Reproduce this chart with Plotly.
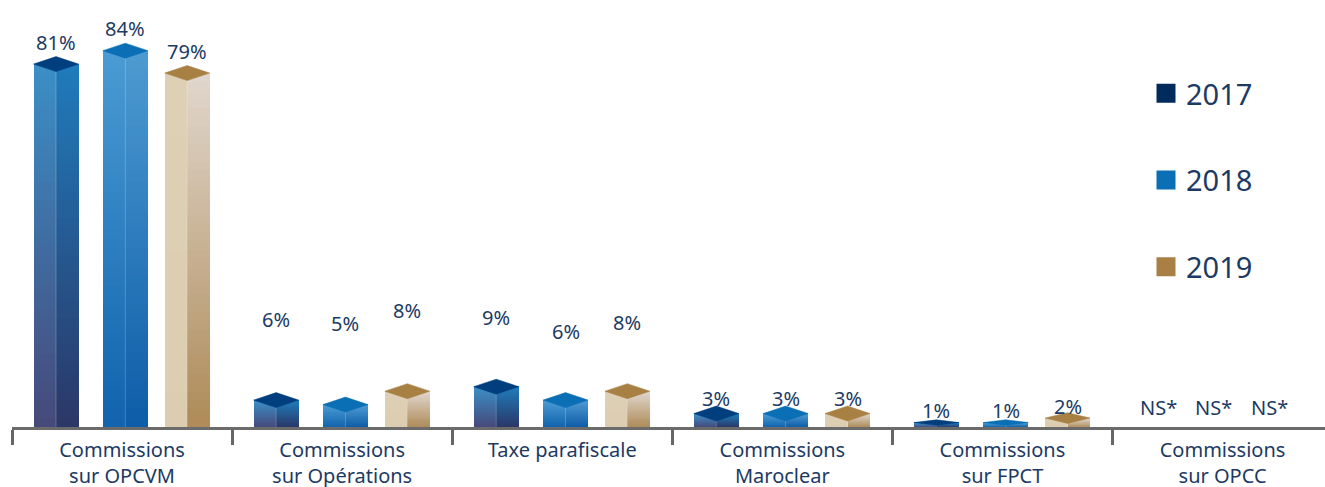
import plotly.graph_objects as go

# ---------------- data ----------------
categories = ["Commissions<br>sur OPCVM", "Commissions<br>sur Opérations", "Taxe parafiscale",
              "Commissions<br>Maroclear", "Commissions<br>sur FPCT", "Commissions<br>sur OPCC"]
years = ["2017", "2018", "2019"]
v2017 = [81, 6, 9, 3, 1, None]
v2018 = [84, 5, 6, 3, 1, None]
v2019 = [79, 8, 8, 3, 2, None]
na_label = "NS*"
series = [v2017, v2018, v2019]

# ---------------- style ----------------
W, H = 1325, 487
ML, MB = 12, 60
CAT_PX = 220.1
PLOT_W = W - ML
PLOT_H = H - MB
Y_MAX = 95.3
PX_PER_Y = PLOT_H / Y_MAX
X_MAX = -0.5 + PLOT_W / CAT_PX

OFFSETS = [-0.300, 0.015, 0.296]      # bar centre offset inside a category (category units)
NA_OFFSETS = [-0.29, -0.04, 0.215]    # label offsets used when a value is not significant
BAR_W = 45 / CAT_PX                   # bar width in category units
DEPTH_PX = 7.5                        # half height of the top lozenge
N_STRIPS = 40
LABEL_LIFT_PX = [22, 81, 69, 15, 12, 20]

TEXT = "#1c3a64"
FONT = "Noto Sans"
COLORS = {
    # left top, left bottom, right top, right bottom, top face, legend
    "2017": ("#3b8fc7", "#46497a", "#1f7cbc", "#2b3767", "#003e7e", "#002b5c"),
    "2018": ("#4b9bd3", "#1063ad", "#4e9bd2", "#0d5ca7", "#0a6fb5", "#0a6fb5"),
    "2019": ("#ddd0b5", "#ddcdb0", "#e1d7ce", "#ae8b58", "#a88044", "#a88045"),
}


def hex2rgb(h):
    h = h.lstrip("#")
    return tuple(int(h[i:i + 2], 16) for i in (0, 2, 4))


def mix(c_bot, c_top, t):
    a, b = hex2rgb(c_bot), hex2rgb(c_top)
    return "rgb(%d,%d,%d)" % tuple(round(a[i] + (b[i] - a[i]) * t) for i in range(3))


fig = go.Figure()
annotations = []

for s, (year, vals) in enumerate(zip(years, series)):
    lt, lb, rt, rb, topc, legc = COLORS[year]
    for face in ("left", "right"):
        xs, bases, hs, cols, ws = [], [], [], [], []
        for i, v in enumerate(vals):
            if v is None:
                continue
            xc = i + OFFSETS[s]
            fx = xc - BAR_W / 4 if face == "left" else xc + BAR_W / 4
            step = v / N_STRIPS
            for k in range(N_STRIPS):
                t = (k + 0.5) / N_STRIPS
                xs.append(fx)
                ws.append(BAR_W / 2)
                bases.append(k * step)
                hs.append(step * (1.0 if k == N_STRIPS - 1 else 1.6))
                cols.append(mix(lb, lt, t) if face == "left" else mix(rb, rt, t))
        fig.add_trace(go.Bar(x=xs, y=hs, base=bases, width=ws,
                             marker=dict(color=cols, line=dict(width=0)),
                             showlegend=False, hoverinfo="skip"))
    # top lozenges + front edge highlight
    px_, py_, ex, ey = [], [], [], []
    for i, v in enumerate(vals):
        if v is None:
            continue
        xc = i + OFFSETS[s]
        x0, x1 = xc - BAR_W / 2, xc + BAR_W / 2
        d = min(DEPTH_PX, 0.6 * v * PX_PER_Y) / PX_PER_Y
        px_ += [x0, xc, x1, xc, x0, None]
        py_ += [v, v + d, v, v - d, v, None]
        ex += [xc, xc, None]
        ey += [0, v - d, None]
    fig.add_trace(go.Scatter(x=ex, y=ey, mode="lines",
                             line=dict(color="rgba(255,255,255,0.22)", width=1),
                             showlegend=False, hoverinfo="skip"))
    fig.add_trace(go.Scatter(x=px_, y=py_, mode="lines", fill="toself", fillcolor=topc,
                             line=dict(color=topc, width=0.5),
                             showlegend=False, hoverinfo="skip"))
    # value labels
    for i, v in enumerate(vals):
        annotations.append(dict(
            x=i + (OFFSETS[s] if v is not None else NA_OFFSETS[s]),
            y=v if v is not None else 0, xref="x", yref="y",
            text=f"{v}%" if v is not None else na_label, showarrow=False,
            yanchor="middle", yshift=LABEL_LIFT_PX[i],
            font=dict(family=FONT, size=20, color=TEXT)))

# legend entries
for s, year in enumerate(years):
    c = COLORS[year][5]
    fig.add_trace(go.Scatter(x=[None], y=[None], mode="markers", name=year,
                             legendgroup=year,
                             marker=dict(symbol="square", size=16, color=c,
                                         line=dict(color=c, width=3))))

fig.update_layout(
    width=W, height=H,
    margin=dict(l=ML, r=0, t=0, b=MB, autoexpand=False),
    paper_bgcolor="white", plot_bgcolor="white",
    barmode="overlay", bargap=0,
    annotations=annotations,
    font=dict(family=FONT, color=TEXT),
    legend=dict(xref="paper", yref="paper", x=(1146 - ML) / PLOT_W, y=1 - 68 / PLOT_H,
                xanchor="left", yanchor="top", bgcolor="rgba(0,0,0,0)",
                font=dict(family=FONT, size=29, color=TEXT),
                tracegroupgap=46, itemsizing="trace"),
    xaxis=dict(range=[-0.5, X_MAX], tickmode="array", tickvals=list(range(len(categories))),
               ticktext=categories, ticks="", showgrid=False, zeroline=False,
               showline=True, linecolor="#6b6b6b", linewidth=3,
               tickfont=dict(family=FONT, size=20, color=TEXT),
               ticklabelstandoff=3, automargin=False,
               minor=dict(tickmode="array",
                          tickvals=[i - 0.5 for i in range(len(categories) + 1)],
                          ticks="outside", ticklen=15, tickwidth=2.5, tickcolor="#666666",
                          showgrid=False),
               fixedrange=True),
    yaxis=dict(range=[0, Y_MAX], visible=False, showgrid=False, zeroline=False,
               fixedrange=True),
)

fig.write_html("out.html", config={"displayModeBar": False},
               post_script="document.body.style.margin='0';document.body.style.overflow='hidden';")
